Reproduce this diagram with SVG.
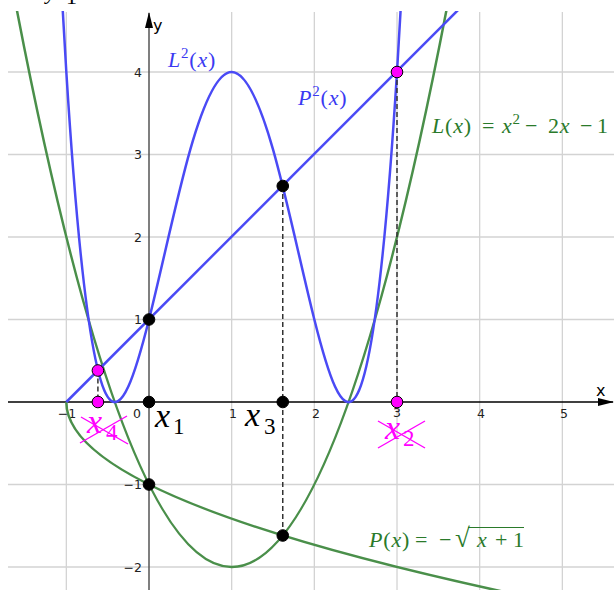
<svg xmlns="http://www.w3.org/2000/svg" width="614" height="590" viewBox="0 0 614 590">
<style>
.grid line{stroke:#d3d3d3;stroke-width:1.3}
.tick{font-family:"DejaVu Sans",sans-serif;font-size:12.5px;fill:#222}
.ty{text-anchor:end}
.tx{text-anchor:middle}
.m{font-family:"Liberation Serif",serif;font-size:22px;letter-spacing:0.8px}
.i{font-style:italic}
.big{font-family:"Liberation Serif",serif;font-size:34px}
.blue{fill:#3a3af2}
.green{fill:#2a7a2a}
.mag{fill:#ff00ff}
.cb{fill:none;stroke:#4a4af5;stroke-width:2.5}
.cg{fill:none;stroke:#4a8f4a;stroke-width:2.5}
.dash{stroke:#333;stroke-width:1.5;stroke-dasharray:5 3}
.pb{fill:#000;stroke:#000;stroke-width:1}
.pm{fill:#ff00ff;stroke:#000;stroke-width:1}
.x{stroke:#ff00ff;stroke-width:1.4}
</style>
<defs>
<clipPath id="plot"><rect x="8" y="11" width="606" height="579"/></clipPath>
<marker id="arr" markerUnits="userSpaceOnUse" markerWidth="16" markerHeight="10" viewBox="0 0 16 10" refX="15" refY="5" orient="auto"><path d="M0,1 L16,5 L0,9 Z" fill="#000"/></marker>
</defs>
<g id="grid" class="grid">
<line x1="8" y1="72" x2="614" y2="72"/>
<line x1="8" y1="154.5" x2="614" y2="154.5"/>
<line x1="8" y1="237" x2="614" y2="237"/>
<line x1="8" y1="319.5" x2="614" y2="319.5"/>
<line x1="8" y1="484.5" x2="614" y2="484.5"/>
<line x1="8" y1="567" x2="614" y2="567"/>
<line x1="66.33" y1="12" x2="66.33" y2="590"/>
<line x1="231.67" y1="12" x2="231.67" y2="590"/>
<line x1="314.34" y1="12" x2="314.34" y2="590"/>
<line x1="397.01" y1="12" x2="397.01" y2="590"/>
<line x1="479.68" y1="12" x2="479.68" y2="590"/>
<line x1="562.35" y1="12" x2="562.35" y2="590"/>
</g>
<g id="axes">
<line x1="8" y1="402" x2="613" y2="402" stroke="#000" stroke-width="1.3" marker-end="url(#arr)"/>
<line x1="149" y1="590" x2="149" y2="13" stroke="#555" stroke-width="1.5" marker-end="url(#arr)"/>
<text x="596" y="396" font-family="DejaVu Sans,sans-serif" font-size="16">x</text>
<text x="153" y="31" font-family="DejaVu Sans,sans-serif" font-size="16">y</text>
<text class="tick tx" x="67" y="418">−1</text>
<text class="tick ty" x="141" y="418">0</text>
<text class="tick tx" x="233" y="418">1</text>
<text class="tick tx" x="316" y="418">2</text>
<text class="tick tx" x="397" y="417">3</text>
<text class="tick tx" x="481" y="418">4</text>
<text class="tick tx" x="564" y="418">5</text>
<text class="tick ty" x="142" y="77">4</text>
<text class="tick ty" x="142" y="159">3</text>
<text class="tick ty" x="142" y="242">2</text>
<text class="tick ty" x="142" y="324">1</text>
<text class="tick ty" x="142" y="489">−1</text>
<text class="tick ty" x="142" y="572">−2</text>
</g>
<g id="curves" clip-path="url(#plot)">
<path id="L" class="cg" d="M12.59,-12.36 Q231.67,1146.36 450.75,-12.36"/>
<path id="P" class="cg" d="M66.33,402 Q66.33,501 542.5,600"/>
<path id="L2" class="cb" d="M61.37,-13.28 C63.02,17.22 64.68,45.6 66.33,72 C80.11,292 93.89,376.22 107.67,396.84 C121.44,417.47 135.22,374.5 149,319.5 C162.78,264.5 176.56,197.47 190.34,149.34 C204.11,101.22 217.89,72 231.67,72 C245.45,72 259.23,101.22 273,149.34 C286.78,197.47 300.56,264.5 314.34,319.5 C328.12,374.5 341.9,417.47 355.68,396.84 C369.45,376.22 383.23,292 397.01,72 C398.66,45.6 400.32,17.22 401.97,-13.28"/>
<path id="P2" class="cb" d="M66.33,402 L463.1,5"/>
</g>
<g id="connectors">
<line class="dash" x1="282.76" y1="186" x2="282.76" y2="535.5"/>
<line class="dash" x1="397" y1="72" x2="397" y2="402"/>
<line class="dash" x1="97.91" y1="370.5" x2="97.91" y2="402"/>
</g>
<g id="points">
<circle class="pb" cx="149" cy="319.5" r="5.8"/>
<circle class="pb" cx="149" cy="402" r="5.8"/>
<circle class="pb" cx="149" cy="484.5" r="5.8"/>
<circle class="pb" cx="282.76" cy="186" r="5.8"/>
<circle class="pb" cx="282.76" cy="402" r="5.8"/>
<circle class="pb" cx="282.76" cy="535.5" r="5.8"/>
<circle class="pm" cx="397" cy="72" r="5.8"/>
<circle class="pm" cx="397" cy="402" r="5.8"/>
<circle class="pm" cx="97.91" cy="370.5" r="5.8"/>
<circle class="pm" cx="97.91" cy="402" r="5.8"/>
</g>
<g id="label-L2" class="m blue"><text x="168" y="66.5"><tspan class="i">L</tspan><tspan dy="-9" font-size="15">2</tspan><tspan dy="9">(</tspan><tspan class="i">x</tspan>)</text></g>
<g id="label-P2" class="m blue"><text x="298" y="104.5"><tspan class="i">P</tspan><tspan dy="-9" font-size="15">2</tspan><tspan dy="9">(</tspan><tspan class="i">x</tspan>)</text></g>
<g id="label-L" class="m green"><text y="133"><tspan x="432" class="i">L</tspan>(<tspan class="i">x</tspan>)<tspan x="482">=</tspan><tspan x="502" class="i">x</tspan><tspan dy="-9" font-size="15">2</tspan><tspan x="525" dy="9">−</tspan><tspan x="548">2</tspan><tspan class="i">x</tspan><tspan x="580">−</tspan><tspan x="597">1</tspan></text></g>
<g id="label-P" class="m green"><text y="547"><tspan x="369" class="i">P</tspan>(<tspan class="i">x</tspan>)<tspan x="415">=</tspan><tspan x="439">−</tspan><tspan x="455" font-size="27">√</tspan><tspan x="477" class="i">x</tspan><tspan x="495">+</tspan><tspan x="513">1</tspan></text><line x1="468" y1="527.5" x2="524" y2="527.5" stroke="#2a7a2a" stroke-width="1.2"/></g>
<g id="label-x1" class="big"><text y="427"><tspan x="155" class="i">x</tspan><tspan x="173" y="434" font-size="23">1</tspan></text></g>
<g id="label-x3" class="big"><text y="426"><tspan x="245" class="i">x</tspan><tspan x="264" y="434" font-size="23">3</tspan></text></g>
<g id="label-x4" class="big mag"><text y="433"><tspan x="87" class="i">x</tspan><tspan x="106" y="440" font-size="23">4</tspan></text><line class="x" x1="81" y1="417" x2="128" y2="444"/><line class="x" x1="80" y1="443" x2="127" y2="416"/></g>
<g id="label-x2" class="big mag"><text y="439"><tspan x="385" class="i">x</tspan><tspan x="403" y="446" font-size="23">2</tspan></text><line class="x" x1="378" y1="421" x2="425" y2="448"/><line class="x" x1="378" y1="448" x2="425" y2="421"/></g>
<g id="top-cut"><text x="46" y="-1" font-family="Liberation Serif,serif" font-size="22" font-style="italic">y</text><text x="66" y="4" font-family="Liberation Serif,serif" font-size="22">1</text></g>
</svg>
